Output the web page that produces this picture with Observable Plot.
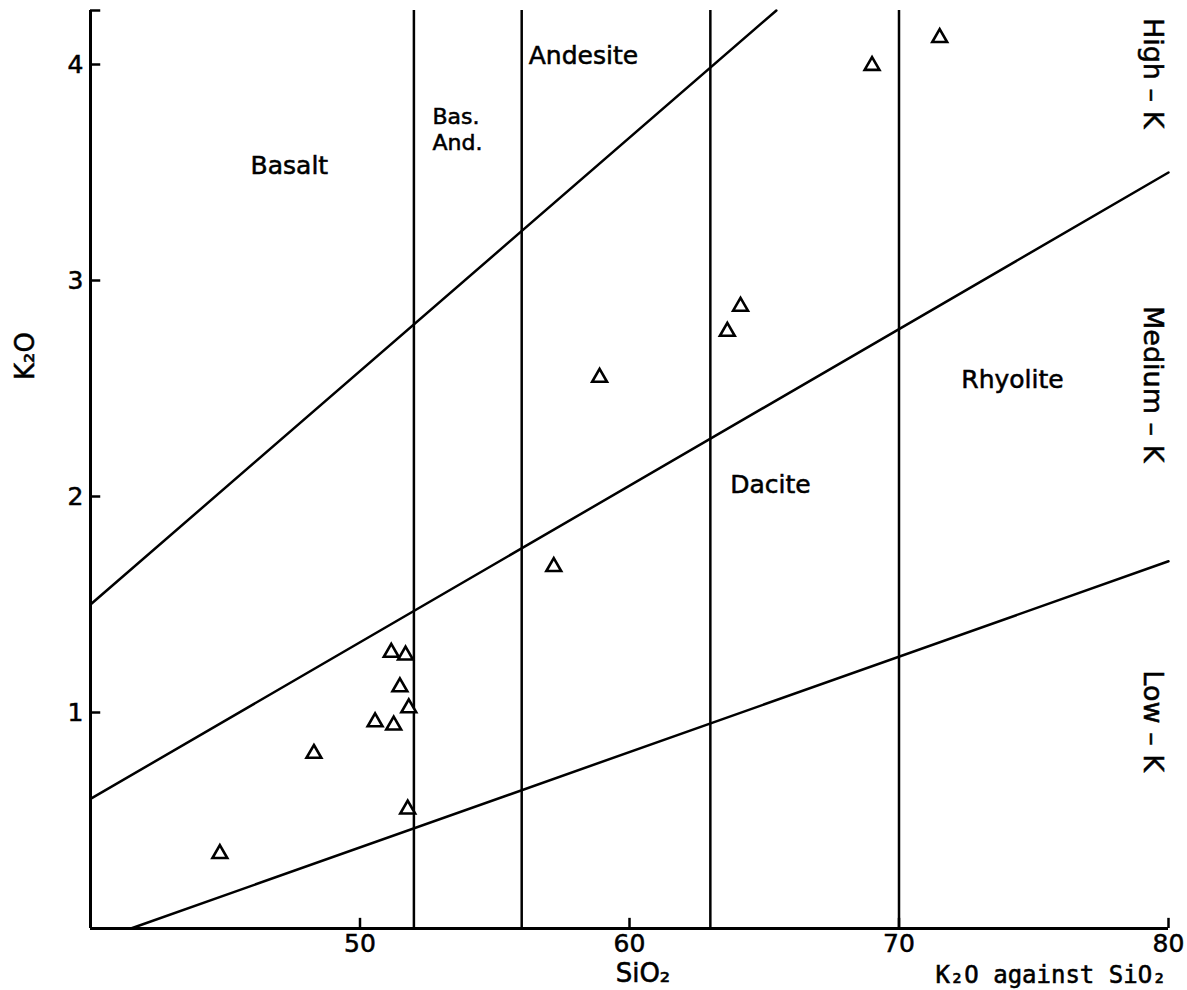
<!DOCTYPE html>
<html><head><meta charset="utf-8">
<script src="https://cdn.jsdelivr.net/npm/d3@7"></script>
<script src="https://cdn.jsdelivr.net/npm/@observablehq/plot@0.6"></script>
<style>body{margin:0;background:#fff} svg{display:block} svg text{stroke:#000;stroke-width:0.55px}</style>
</head><body><div id="chart"></div>
<script>
// Sample data (open triangles)
const siO2 = [44.80, 48.29, 50.56, 51.25, 51.16, 51.69, 51.48, 51.81, 51.77, 57.19, 58.89, 63.63, 64.12, 69.00, 71.51];
const k2O  = [0.346, 0.810, 0.956, 0.941, 1.278, 1.265, 1.118, 1.021, 0.552, 1.675, 2.551, 2.764, 2.880, 3.995, 4.124];

// Rock-type boundaries (SiO2 %)
const rockBoundaries = [52, 56, 63, 70];

// K-series boundary lines (endpoints)
const highMedX = [40, 65.45], highMedY = [1.5, 4.25];
const medLowX  = [40, 80],    medLowY  = [0.6, 3.5];
const lowX     = [41.5, 80],  lowY     = [0, 1.7];

// Tick values
const xTicks = [50, 60, 70, 80];
const yTicks = [1, 2, 3, 4];

// Region labels
const rockNames = ["Basalt", "Andesite", "Dacite", "Rhyolite"];
const rockX = [47.38, 58.29, 65.23, 74.21];
const rockY = [3.53, 4.04, 2.053, 2.54];
const basAndNames = ["Bas.", "And."];
const basAndX = [52.69, 52.69];
const basAndY = [3.757, 3.635];

const seriesNames = ["High – K", "Medium – K", "Low – K"];
const seriesX = [79.4, 79.4, 79.4];
const seriesY = [3.96, 2.52, 0.96];

const rocks = rockNames.map((t, i) => ({t, x: rockX[i], y: rockY[i]}));
const basAnd = basAndNames.map((t, i) => ({t, x: basAndX[i], y: basAndY[i]}));
const series = seriesNames.map((t, i) => ({t, x: seriesX[i], y: seriesY[i]}));
const pts = siO2.map((x, i) => ({x, y: k2O[i]}));
const seg = (xs, ys) => xs.map((x, i) => ({x, y: ys[i]}));

const chart = Plot.plot({
  width: 1187, height: 990,
  marginLeft: 90, marginRight: 19, marginTop: 10, marginBottom: 62,
  x: {domain: [40, 80]},
  y: {domain: [0, 4.25]},
  style: {fontFamily: "DejaVu Sans", fontSize: "25px", color: "black", background: "white"},
  marks: [
    Plot.axisX({ticks: xTicks, tickSize: 0, tickPadding: 6, label: null, tickFormat: "d"}),
    Plot.axisY({ticks: yTicks, tickSize: 0, tickPadding: 7, label: null, tickFormat: "d"}),
    Plot.ruleX(xTicks, {y1: 0, y2: 0.047, stroke: "black", strokeWidth: 2.5}),
    Plot.ruleY([...yTicks, 4.25], {x1: 40, x2: 40.38, stroke: "black", strokeWidth: 2.5}),
    Plot.ruleX([40], {y1: 0, y2: 4.25, stroke: "black", strokeWidth: 3}),
    Plot.ruleY([0], {x1: 40, x2: 80, stroke: "black", strokeWidth: 3}),
    Plot.ruleX(rockBoundaries, {y1: 0, y2: 4.25, stroke: "black", strokeWidth: 2.5}),
    Plot.line(seg(highMedX, highMedY), {x: "x", y: "y", stroke: "black", strokeWidth: 2.5}),
    Plot.line(seg(medLowX, medLowY), {x: "x", y: "y", stroke: "black", strokeWidth: 2.5}),
    Plot.line(seg(lowX, lowY), {x: "x", y: "y", stroke: "black", strokeWidth: 2.5}),
    Plot.dot(pts, {x: "x", y: "y", symbol: "triangle", r: 5.5, stroke: "black", fill: "white", strokeWidth: 2.6}),
    Plot.text(rocks, {x: "x", y: "y", text: "t", fill: "black"}),
    Plot.text(basAnd, {x: "x", y: "y", text: "t", textAnchor: "start", fontSize: 22, fill: "black"}),
    Plot.text(series, {x: "x", y: "y", text: "t", rotate: 90, fontSize: 27, fill: "black"}),
    Plot.text(["K₂O"], {x: 40, y: 2.65, dx: -65, rotate: -90, fontSize: 26, fill: "black"}),
    Plot.text(["SiO₂"], {x: 60.5, y: 0, dy: 45, fontSize: 26, fill: "black"}),
    Plot.text(["K₂O against SiO₂"], {x: 71.35, y: 0, dy: 47, textAnchor: "start", fontFamily: "DejaVu Sans Mono", fontSize: 24, fill: "black"})
  ]
});
document.getElementById("chart").appendChild(chart);
</script>
</body></html>
